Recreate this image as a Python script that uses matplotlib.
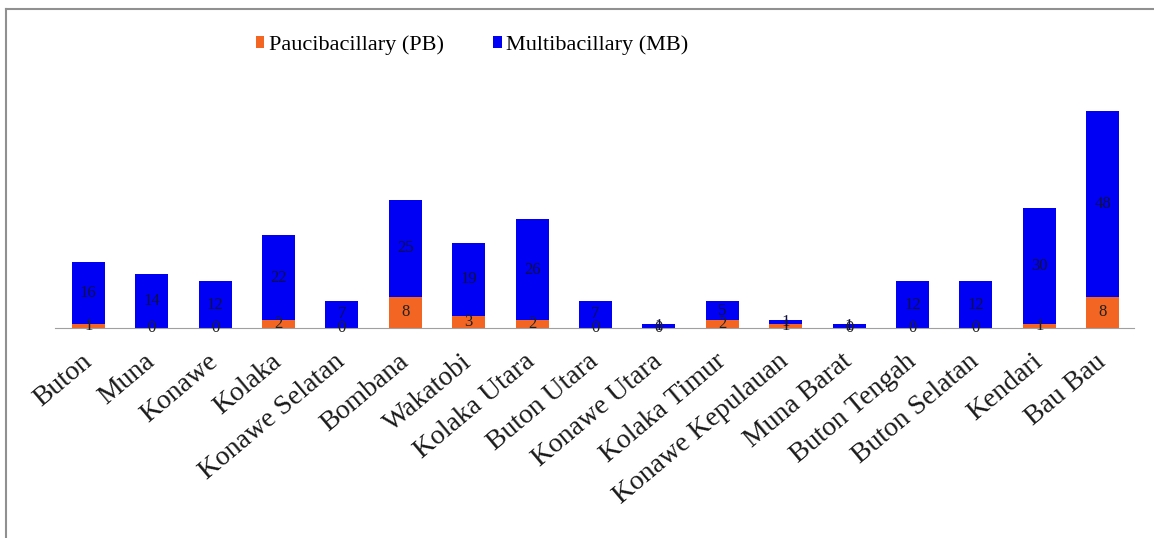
import numpy as np
import matplotlib
matplotlib.use("Agg")
import matplotlib.pyplot as plt
from matplotlib.lines import Line2D

# Data
districts = ["Buton", "Muna", "Konawe", "Kolaka", "Konawe Selatan", "Bombana",
             "Wakatobi", "Kolaka Utara", "Buton Utara", "Konawe Utara",
             "Kolaka Timur", "Konawe Kepulauan", "Muna Barat", "Buton Tengah",
             "Buton Selatan", "Kendari", "Bau Bau"]
pb_cases = [1, 0, 0, 2, 0, 8, 3, 2, 0, 0, 2, 1, 0, 0, 0, 1, 8]
mb_cases = [16, 14, 12, 22, 7, 25, 19, 26, 7, 1, 5, 1, 1, 12, 12, 30, 48]

orange = "#F26522"
blue = "#0000F5"

plt.rcParams['font.family'] = ['Liberation Serif', 'DejaVu Serif']

fig = plt.figure(figsize=(11.54, 5.38), dpi=100)
# outer frame (only top and left edges visible in the reference)
fig.lines.append(Line2D([0.0055, 0.0055], [0.0, 1 - 9 / 538], transform=fig.transFigure,
                        color="#909090", lw=1.5))
fig.lines.append(Line2D([0.0055, 1.0], [1 - 9 / 538, 1 - 9 / 538], transform=fig.transFigure,
                        color="#909090", lw=1.5))

ax = fig.add_axes([0.048, 1 - 328 / 538, 0.935, (328 - 95) / 538])
x_vec = np.arange(len(districts))
pb = np.array(pb_cases)
mb = np.array(mb_cases)

bars_pb = ax.bar(x_vec, pb, width=0.52, color=orange, label="Paucibacillary (PB)")
bars_mb = ax.bar(x_vec, mb, width=0.52, bottom=pb, color=blue, label="Multibacillary (MB)")

# segment labels
for i in x_vec:
    ax.text(i, pb[i] / 2.0, "%d" % pb[i], ha="center", va="center",
            fontsize=12, color="#202020")
    ax.text(i, pb[i] + mb[i] / 2.0, "%d" % mb[i], ha="center", va="center",
            fontsize=12, color="#101040")

ax.set_xlim(-0.52, len(districts) - 0.5)
ax.set_ylim(0, 60)
ax.set_yticks([])
ax.set_xticks(x_vec)
ax.set_xticklabels(districts, rotation=40, ha="right", va="center",
                   rotation_mode="anchor", fontsize=20, color="#1a1a1a")
ax.tick_params(axis="x", length=0, pad=22)
for s in ["top", "right", "left"]:
    ax.spines[s].set_visible(False)
ax.spines["bottom"].set_color("#a0a0a0")

fig.legend(handles=[bars_pb, bars_mb], loc="center", bbox_to_anchor=(472 / 1154, 1 - 45 / 538),
           ncol=2, frameon=False, fontsize=16, handlelength=0.4, handleheight=0.4,
           handletextpad=0.2, columnspacing=2.2)

fig.savefig("out.png", dpi=100)
